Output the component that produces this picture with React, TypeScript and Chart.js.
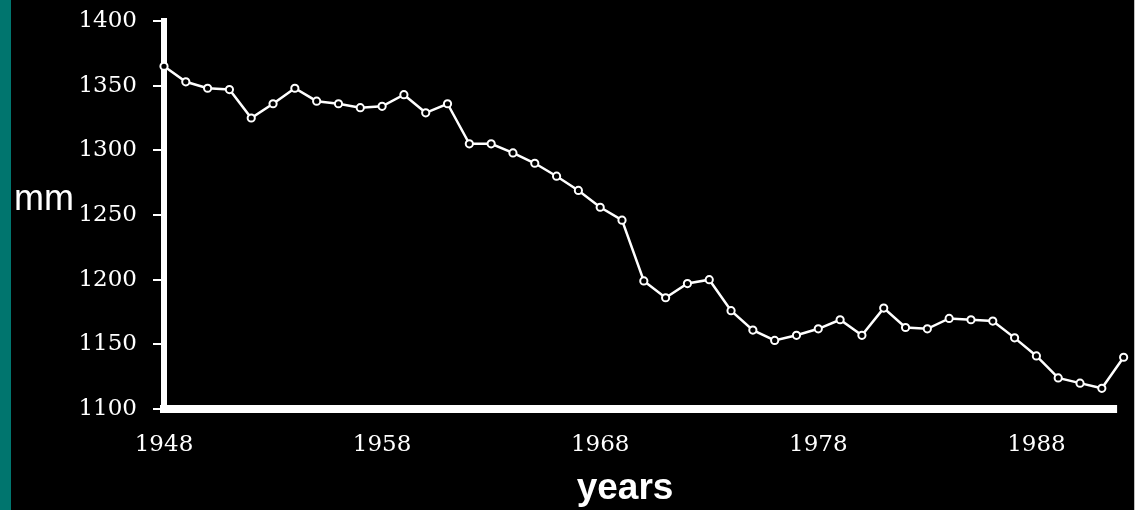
import React, { useEffect, useRef } from "react";
import { Chart, registerables } from "chart.js";

Chart.register(...registerables);

const years: number[] = [
  1948, 1949, 1950, 1951, 1952, 1953, 1954, 1955, 1956, 1957,
  1958, 1959, 1960, 1961, 1962, 1963, 1964, 1965, 1966, 1967,
  1968, 1969, 1970, 1971, 1972, 1973, 1974, 1975, 1976, 1977,
  1978, 1979, 1980, 1981, 1982, 1983, 1984, 1985, 1986, 1987,
  1988, 1989, 1990, 1991, 1992,
];

const rainfallMm: number[] = [
  1365, 1353, 1348, 1347, 1325, 1336, 1348, 1338, 1336, 1333,
  1334, 1343, 1329, 1336, 1305, 1305, 1298, 1290, 1280, 1269,
  1256, 1246, 1199, 1186, 1197, 1200, 1176, 1161, 1153, 1157,
  1162, 1169, 1157, 1178, 1163, 1162, 1170, 1169, 1168, 1155,
  1141, 1124, 1120, 1116, 1140,
];

const xTickLabels: number[] = [1948, 1958, 1968, 1978, 1988];
const yTickLabels: number[] = [1100, 1150, 1200, 1250, 1300, 1350, 1400];
const xAxisEnd = 1991.7;

const yTitle = "mm";
const xTitle = "years";

const titlesPlugin = {
  id: "titles",
  beforeDatasetsDraw(chart: any) {
    const ctx = chart.ctx as CanvasRenderingContext2D;
    const xs = chart.scales.x;
    const area = chart.chartArea;
    ctx.save();
    ctx.strokeStyle = "#ffffff";
    ctx.lineWidth = 8;
    ctx.beginPath();
    ctx.moveTo(area.left - 4, area.bottom);
    ctx.lineTo(xs.getPixelForValue(xAxisEnd), area.bottom);
    ctx.stroke();
    ctx.restore();
  },
  afterDraw(chart: any) {
    const ctx = chart.ctx as CanvasRenderingContext2D;
    ctx.save();
    ctx.fillStyle = "#ffffff";
    ctx.textBaseline = "alphabetic";
    ctx.textAlign = "left";
    ctx.font = "36px 'Liberation Sans', Arial, sans-serif";
    ctx.fillText(yTitle, 14, 210);
    ctx.textAlign = "center";
    ctx.font = "bold 37px 'Liberation Sans', Arial, sans-serif";
    ctx.fillText(xTitle, 625, 499);
    ctx.restore();
  },
};

export default function App() {
  const canvasRef = useRef<HTMLCanvasElement | null>(null);

  useEffect(() => {
    document.body.style.margin = "0";
    document.body.style.background = "#000";
    const canvas = canvasRef.current;
    if (!canvas) return;
    const chart = new Chart(canvas, {
      type: "line",
      data: {
        datasets: [
          {
            data: years.map((y, i) => ({ x: y, y: rainfallMm[i] })),
            borderColor: "#ffffff",
            borderWidth: 2.5,
            pointRadius: 3.6,
            pointBorderWidth: 2,
            pointBorderColor: "#ffffff",
            pointBackgroundColor: "#000000",
            tension: 0,
            clip: false as any,
          },
        ],
      },
      plugins: [titlesPlugin],
      options: {
        animation: false,
        responsive: false,
        maintainAspectRatio: false,
        devicePixelRatio: 1,
        layout: { padding: { left: 0, top: 21, right: 7, bottom: 0 } },
        plugins: {
          legend: { display: false },
          tooltip: { enabled: false },
        },
        scales: {
          x: {
            type: "linear",
            min: 1948,
            max: 1992.2,
            afterBuildTicks: (scale: any) => {
              scale.ticks = xTickLabels.map((v) => ({ value: v }));
            },
            afterFit: (scale: any) => {
              scale.height = 101;
              scale.paddingLeft = 0;
              scale.paddingRight = 0;
            },
            grid: { display: false, drawTicks: false, tickLength: 0 },
            border: { display: false },
            ticks: {
              color: "#ffffff",
              padding: 22,
              maxRotation: 0,
              autoSkip: false,
              font: { family: "'DejaVu Serif', serif", size: 23 },
              callback: (v: any) => String(v),
            },
          },
          y: {
            type: "linear",
            min: 1100,
            max: 1400,
            afterBuildTicks: (scale: any) => {
              scale.ticks = yTickLabels.map((v) => ({ value: v }));
            },
            afterFit: (scale: any) => {
              scale.width = 164;
              scale.paddingTop = 0;
              scale.paddingBottom = 0;
            },
            grid: {
              display: true,
              drawOnChartArea: false,
              drawTicks: true,
              tickLength: 11,
              color: "#ffffff",
              lineWidth: 2,
            },
            border: { display: true, color: "#ffffff", width: 6 },
            ticks: {
              color: "#ffffff",
              padding: 16,
              font: { family: "'DejaVu Serif', serif", size: 23 },
              callback: (v: any) => String(v),
            },
          },
        },
      },
    });
    return () => chart.destroy();
  }, []);

  return (
    <div
      style={{
        position: "fixed",
        left: 0,
        top: 0,
        width: 1135,
        height: 510,
        background: "#000000",
        overflow: "hidden",
      }}
    >
      <div
        style={{
          position: "absolute",
          left: 0,
          top: 0,
          width: 11,
          height: 510,
          background: "#00756e",
        }}
      />
      <div
        style={{
          position: "absolute",
          right: 0,
          top: 0,
          width: 1,
          height: 510,
          background: "#bfbfbf",
        }}
      />
      <canvas
        ref={canvasRef}
        width={1135}
        height={510}
        style={{ position: "absolute", left: 0, top: 0, width: 1135, height: 510 }}
      />
    </div>
  );
}
